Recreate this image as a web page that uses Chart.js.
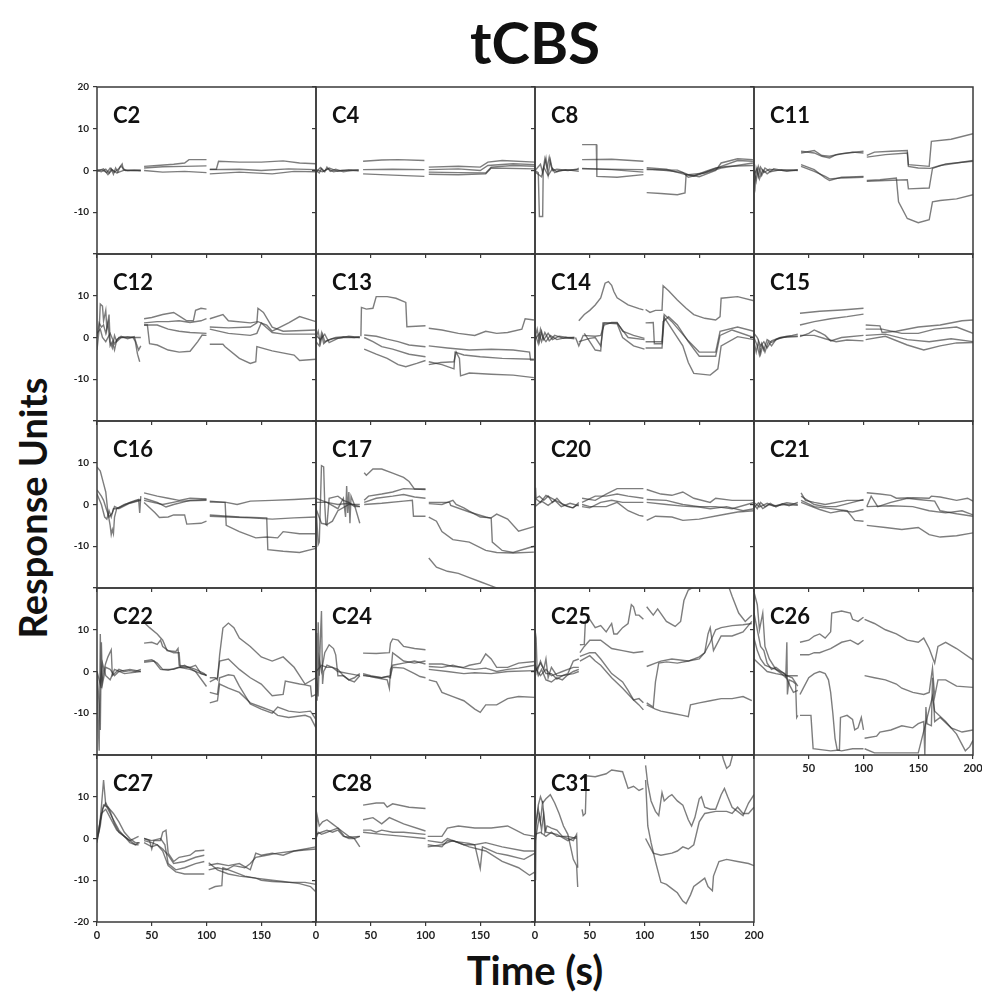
<!DOCTYPE html>
<html>
<head>
<meta charset="utf-8">
<script src="https://cdn.jsdelivr.net/npm/chart.js@4.4.1/dist/chart.umd.min.js"></script>
<style>
  html, body { margin: 0; padding: 0; background: #fff; }
  #page { position: relative; width: 982px; height: 999px; overflow: hidden; font-family: Lato, "Open Sans", sans-serif; color: #111; }
  canvas.panel { position: absolute; }
  .name { position: absolute; font-weight: 700; font-size: 22px; line-height: 1; color: #111; white-space: nowrap; }
  #title { position: absolute; left: 385px; width: 300px; top: 13px; text-align: center; font-weight: 700; font-size: 58px; line-height: 1; }
  #ytitle { position: absolute; left: 32px; top: 508px; transform: translate(-50%, -50%) rotate(-90deg); font-weight: 700; font-size: 38px; line-height: 1; white-space: nowrap; }
  #xtitle { position: absolute; left: 385px; width: 300px; top: 950px; text-align: center; font-weight: 700; font-size: 40px; line-height: 1; }
</style>
</head>
<body>
<div id="page">
  <div id="title">tCBS</div>
  <div id="ytitle">Response Units</div>
  <div id="xtitle">Time (s)</div>
</div>
<script>
// Axis ticks shared by every panel
const timeTicks = [0, 50, 100, 150, 200];
const responseTicks = [-20, -10, 0, 10, 20];

// Panel names, in reading order (4 per row)
const panelNames = ['C2', 'C4', 'C8', 'C11', 'C12', 'C13', 'C14', 'C15', 'C16', 'C17',
                    'C20', 'C21', 'C22', 'C24', 'C25', 'C26', 'C27', 'C28', 'C31'];

// Each trace: three recording windows, each a flat list of time, response pairs
const C2 = [
  [[0,0, 4,-0.3, 8,0.3, 11,-0.6, 13,0.4, 15,-0.9, 17,0.6, 19,-0.4, 21,0.9, 23,1.6, 24,0.2, 28,0, 34,0.1, 40,0],
   [43,1.0, 55,1.2, 70,1.5, 80,1.8, 84,2.6, 100,2.6],
   [103,0.3, 109,0.3, 111,2.2, 130,2.0, 150,2.0, 170,2.3, 185,1.8, 200,1.6]],
  [[0,0.2, 5,0.1, 9,-0.5, 12,0.6, 16,-0.4, 20,0.5, 22,1.0, 26,0, 40,-0.1],
   [43,0.6, 60,0.9, 80,1.0, 100,1.1],
   [103,0.2, 130,0.3, 150,0.0, 175,0.4, 200,0.2]],
  [[0,-0.2, 6,0.4, 10,-1.0, 14,0.2, 18,-0.6, 25,0.1, 40,0.1],
   [43,0.0, 60,-0.4, 80,-0.2, 100,-0.5],
   [103,-0.8, 130,-0.4, 160,-0.8, 180,-0.2, 200,-0.3]]
];
const C4 = [
  [[0,0, 3,-0.6, 5,0.5, 8,-0.3, 10,0.8, 13,-0.2, 18,0.3, 25,-0.3, 32,0, 39,0.2],
   [43,2.2, 60,2.5, 75,2.6, 99,2.4],
   [103,0.8, 130,1.0, 150,0.8, 157,2.0, 170,2.4, 200,2.0]],
  [[0,-0.4, 4,0.7, 7,-0.2, 11,0.4, 16,-0.3, 24,0.1, 39,-0.1],
   [43,0.2, 70,0.3, 99,0.2],
   [103,0.2, 130,0.4, 150,0.0, 157,1.2, 180,1.6, 200,1.4]],
  [[0,0.2, 6,-0.3, 12,0.6, 20,-0.2, 30,0.2, 39,0],
   [43,-0.8, 70,-1.1, 99,-1.4],
   [103,-0.4, 130,-0.5, 155,-0.6, 160,0.8, 180,1.2, 200,1.0]],
  [[], [],
   [103,-0.9, 130,-1.0, 155,-0.8, 160,0.6, 200,0.4]]
];
const C8 = [
  [[0,0, 3,-0.5, 4,-11, 7,-11, 7.5,0, 10,3, 12,-1, 14,2.5, 16,0, 20,0.3, 30,0, 38,0.3, 40,0.6],
   [43,6.2, 56,6.2, 56.5,-1.4, 75,-1.6, 99,-1.0],
   [102,-5.3, 115,-5.5, 130,-5.8, 137,-5.4, 138,-1, 150,-1.5, 165,0, 170,1.8, 185,2.8, 199,2.6]],
  [[0,0, 5,1.5, 7,-0.5, 9,2.8, 11,0.5, 13,3.2, 15,0.8, 18,-0.5, 22,0, 40,0.2],
   [43,2.6, 70,2.7, 99,2.2],
   [102,0.4, 120,0, 135,-0.5, 140,-1.6, 150,-1, 160,0, 170,1.0, 185,2.4, 199,2.2]],
  [[0,-0.3, 6,-1.5, 8,0.8, 12,-1.2, 16,0.5, 20,-0.3, 28,0.2, 40,-0.2],
   [43,0.5, 70,0.2, 99,-0.4],
   [102,0.7, 120,0.3, 135,-0.8, 145,-1.3, 155,-0.3, 165,0.6, 175,1.0, 199,1.2]],
  [[],
   [43,0.4, 99,0.2],
   [102,0.2, 130,0.1, 140,-1.0, 155,-0.6, 170,0.6, 199,1.8]]
];
const C11 = [
  [[0,-2, 1,-3.8, 2,0.5, 4,-1.5, 6,0.8, 9,-0.5, 14,0.3, 20,0.1, 30,0, 40,0.2],
   [43,4.6, 55,4.2, 62,3.4, 69,3.0, 75,3.8, 90,4.4, 100,4.2],
   [103,3.6, 110,4.4, 125,4.6, 140,4.8, 141,1.4, 160,1.0, 162,7.0, 180,7.5, 200,8.8]],
  [[0,0, 2,-2.5, 4,1.0, 7,-1.2, 10,0.6, 15,-0.3, 25,0.2, 40,0],
   [43,4.2, 55,4.8, 62,3.6, 69,3.4, 80,4.0, 100,4.6],
   [103,3.2, 120,3.8, 140,4.2, 141,1.0, 150,0.6, 161,0.5, 170,1.2, 185,1.8, 200,2.4]],
  [[0,-1, 3,0.5, 5,-2.0, 8,0.2, 12,-0.8, 18,0.4, 30,-0.2, 40,0.1],
   [43,1.4, 55,0.2, 65,-1.8, 69,-2.4, 80,-1.6, 100,-1.4],
   [103,-2.4, 115,-2.2, 130,-1.8, 132,-7.5, 140,-11.5, 150,-12.5, 160,-11.8, 163,-7.5, 170,-7.2, 185,-6.8, 200,-5.8]],
  [[],
   [43,1.0, 55,-0.2, 65,-1.4, 69,-2.0, 80,-1.8, 100,-1.6],
   [103,-2.6, 120,-2.4, 140,-2.2, 141,-4.4, 160,-4.2, 163,0.5, 175,1.6, 200,2.2]]
];
const C12 = [
  [[0,-3, 2,2, 3,8, 5,7.5, 6,4, 8,6.5, 9,2, 11,5.5, 12,-1, 14,-2.5, 16,0.5, 18,-1, 22,0, 28,0.2, 33,0, 35,-1, 37,-4, 39,-5.8],
   [43,4.5, 50,4.8, 60,5.5, 70,6.0, 76,5.0, 82,4.0, 88,4.0, 90,6.5, 95,7.0, 100,6.8],
   [103,4.5, 115,5.5, 120,4.0, 140,3.5, 147,3.8, 155,3.0, 160,1.5, 175,3.5, 185,5.0, 200,3.8]],
  [[0,0, 2,3.5, 4,2.5, 6,3.0, 8,1.0, 10,3.5, 12,-2, 14,-1, 16,-3, 18,-0.5, 22,0.3, 28,-0.3, 34,0.2, 36,-1.5, 38,-3, 40,-2],
   [43,3.5, 55,3.8, 65,3.8, 75,4.0, 85,3.6, 95,4.0, 100,4.5],
   [103,2.5, 120,2.3, 140,2.5, 146,3.5, 147,7.0, 152,6.0, 160,2.5, 170,1.5, 200,1.8]],
  [[0,1, 3,2, 5,0, 8,-1, 12,1, 16,-1.5, 20,0, 30,0, 40,0],
   [43,3.0, 55,3.0, 65,2.0, 75,1.5, 85,1.2, 100,1.0],
   [103,2.0, 120,1.0, 140,0.5, 146,1.0, 150,3.5, 160,1.2, 170,0.8, 200,0.8]],
  [[],
   [43,3.0, 46,3.0, 48,-1.5, 55,-1.8, 65,-3.0, 75,-3.5, 85,-3.3, 92,-1.0, 96,0.6, 100,0.5],
   [103,-1.6, 115,-1.6, 117,-2.2, 130,-5.0, 140,-6.2, 145,-5.8, 146,-2.2, 160,-3.2, 180,-4.2, 185,-5.5, 200,-5.2]]
];
const C13 = [
  [[0,0, 2,1.5, 4,-1.5, 6,0.8, 8,-1.0, 12,-0.5, 18,0, 25,0.2, 35,0, 40,0.2],
   [41,0.3, 41.5,7.2, 46,6.8, 52,7.0, 55,9.8, 65,9.8, 73,9.4, 82,8.4, 83,2.6, 100,2.8],
   [103,2.2, 115,1.8, 130,1.0, 145,0.5, 155,1.5, 165,1.0, 175,1.2, 188,2.0, 191,4.5, 199,4.2]],
  [[0,-1, 3,-2, 5,1, 7,-1.5, 10,-0.8, 15,-0.3, 25,0, 40,0],
   [44,0.6, 55,0.3, 65,-0.4, 75,-1.0, 85,-1.8, 100,-2.2],
   [103,-2.0, 120,-2.5, 140,-3.0, 160,-2.8, 180,-3.0, 195,-3.5, 196,-5.4, 199,-5.4]],
  [[0,0.5, 4,-0.5, 8,0.8, 12,-1.2, 20,-0.2, 30,0.3, 40,0],
   [44,0.0, 52,-1.0, 60,-2.2, 70,-2.8, 85,-4.0, 100,-4.6],
   [103,-5.8, 115,-6.5, 126,-7.5, 127,-3.5, 135,-4.2, 150,-4.6, 170,-5.0, 199,-5.2]],
  [[],
   [44,-2.8, 55,-4.0, 65,-5.0, 75,-6.5, 82,-7.0, 92,-6.2, 100,-5.5],
   [103,-6.5, 114,-6.0, 126,-5.8, 128,-3.5, 131,-5.0, 132,-9.2, 140,-8.5, 160,-8.8, 180,-9.0, 199,-9.6]]
];
const C14 = [
  [[0,0, 2,2, 4,-1, 6,1.5, 8,-0.5, 12,1, 16,-0.5, 22,0.3, 30,0, 36,0],
   [40,4.0, 45,5.5, 50,6.5, 55,7.8, 60,9.5, 64,13.0, 67,13.4, 70,12.5, 72,11.0, 75,9.5, 85,7.8, 95,6.9, 99,6.6],
   [101,6.7, 105,6.0, 110,6.5, 116,6.5, 117,12.4, 122,11.2, 130,9.0, 138,7.0, 145,5.5, 155,4.6, 165,4.2, 169,5.0, 170,9.4, 185,9.8, 200,8.8]],
  [[0,1, 3,-1.5, 5,2, 7,0, 10,-1, 14,0.5, 20,-0.5, 28,0, 36,-0.3],
   [37,0, 40,-2, 44,0.5, 55,0.3, 60,0.5, 63,3.0, 70,3.6, 75,3.6, 80,1.5, 90,0.5, 100,-0.2],
   [101,3.5, 108,3.6, 109,-1.5, 116,-1.5, 117,3.8, 122,5.0, 130,3.0, 140,-1.0, 150,-4.5, 165,-4.5, 169,0.5, 180,1.8, 200,0.0]],
  [[0,-0.5, 4,1, 6,-1, 9,1.2, 13,-0.8, 18,0.5, 26,-0.2, 36,0],
   [40,-1, 50,-0.2, 55,0, 60,-2, 63,3.5, 75,3.5, 85,0, 100,-0.5],
   [101,-1.0, 116,-1.0, 118,5.5, 125,3.8, 140,-0.8, 150,-3.5, 165,-3.5, 169,1.5, 185,2.5, 200,1.5]],
  [[],
   [45,1.0, 50,-1.0, 55,-3.0, 60,-3.2, 62,3.5, 75,3.3, 80,0, 90,-2.0, 100,-2.8],
   [101,-2.5, 116,-2.5, 118,4.8, 125,2.0, 135,-2.0, 140,-6.0, 145,-8.6, 160,-9.0, 167,-7.5, 170,-2.0, 185,0.2, 200,-0.5]]
];
const C15 = [
  [[0,-1, 2,-3.5, 4,-1, 6,-4, 8,-2, 10,-3.5, 13,-1, 16,-2, 20,-0.5, 25,0, 30,0.3, 35,0.5, 40,0.8],
   [42,5.8, 60,6.3, 80,6.6, 100,7.0],
   [102,3.0, 115,2.8, 117,1.2, 130,1.5, 150,2.5, 170,3.0, 190,4.0, 200,4.2]],
  [[0,0, 3,-2, 5,-4.2, 7,-1.5, 9,-3, 12,-0.5, 16,-1.2, 22,-0.3, 30,0.2, 40,0.4],
   [42,3.0, 55,3.8, 70,4.5, 85,5.0, 100,5.6],
   [102,2.0, 117,2.0, 135,1.0, 150,1.0, 165,2.0, 185,2.5, 200,1.0]],
  [[0,1, 3,0, 6,-2, 9,-1, 12,-2.5, 16,-0.8, 24,0, 40,0.2],
   [42,0.2, 50,1.0, 55,1.8, 60,1.2, 65,0.5, 70,-0.8, 80,0, 100,0.5],
   [102,0.5, 120,0.8, 140,-0.5, 160,-1.0, 180,-0.3, 200,-1.0]],
  [[],
   [42,0.5, 55,0.5, 65,-0.3, 75,-1.0, 85,-0.6, 100,-0.8],
   [102,-0.5, 120,0.3, 140,-1.8, 155,-3.0, 170,-2.0, 185,-1.3, 200,-1.2]]
];
const C16 = [
  [[0,9, 3,8, 6,5, 8,3, 10,-2, 12,-5, 13,-7.2, 14,-6, 15,-7, 16,-3, 18,-1, 22,-0.5, 30,0.5, 35,1.0, 38,1.2, 39,-2, 40,2.0],
   [43,2.8, 55,2.0, 65,1.5, 75,1.0, 85,1.5, 100,1.3],
   [103,0.8, 118,0.5, 128,0, 140,0.8, 160,1.0, 180,1.2, 200,1.5]],
  [[0,3.5, 4,2.0, 6,1.0, 9,-1.5, 11,-3.0, 14,-2.0, 16,-0.5, 20,-1, 30,0.3, 40,1],
   [43,1.5, 55,0.5, 63,-0.6, 70,0, 85,1.0, 100,1.2],
   [103,-2.8, 120,-3.0, 140,-3.2, 160,-3.5, 180,-3.2, 200,-3.0]],
  [[0,2.5, 4,0, 7,-3.0, 9,-3.5, 11,-1.5, 13,-3.0, 15,-1.0, 18,-1, 25,0, 40,1.2],
   [43,0.5, 53,-2.0, 57,-3.1, 65,-3.0, 70,-2.5, 80,-2.5, 82,-4.7, 95,-4.5, 100,-4.0],
   [103,0.6, 117,0.5, 118,-5.0, 130,-6.5, 145,-8.0, 155,-7.8, 165,-8.0, 170,-6.5, 185,-7.0, 200,-7.0]],
  [[],
   [43,1.0, 60,0, 75,0.8, 100,1.0],
   [103,-2.5, 130,-3.0, 155,-3.2, 156,-10.8, 170,-11.2, 185,-11.5, 200,-10.5]]
];
const C17 = [
  [[0,0, 2,-9.6, 3,-9, 4,0, 5,9.3, 7,9, 8,0, 9,-4.8, 10,-5, 12,1.5, 20,2.0, 25,1.0, 30,0.5, 35,-0.5, 40,-0.5],
   [44,7.6, 46,7.0, 52,8.5, 60,8.5, 70,7.5, 80,6.5, 85,5.5, 90,3.7, 100,3.7],
   [103,0.2, 115,0, 125,1.0, 128,0, 135,-0.8, 140,-1.6, 150,-3.0, 160,-3.2, 165,-2.3, 175,-3.5, 185,-6.4, 199,-5.3]],
  [[0,1.5, 5,1.0, 10,0.5, 20,-1.0, 25,1.5, 27,-3, 28,4.4, 29,-2, 30,3, 31,-4.5, 32,2, 35,0, 40,-4.5],
   [44,1.0, 48,2.0, 60,2.5, 70,3.0, 80,3.8, 100,3.6],
   [103,0.5, 110,0.5, 122,0.5, 123,-0.2, 140,-1.8, 155,-3.0, 160,-3.3, 161,-9.0, 170,-11.0, 180,-11.5, 199,-10.0]],
  [[0,-1, 5,-4.5, 10,-4.8, 15,-4.0, 20,-1.5, 30,0, 40,0],
   [44,0.5, 55,1.5, 70,2.0, 80,2.4, 90,1.8, 100,1.5],
   [103,-3.0, 110,-4.0, 115,-6.5, 125,-8.4, 140,-9.0, 155,-11.0, 165,-11.5, 180,-11.6, 199,-11.4]],
  [[0,0.5, 10,0.5, 20,0, 30,0.3, 40,-0.5],
   [44,0, 60,0.3, 80,0.8, 88,1.0, 89,-2.8, 100,-2.8],
   [103,-12.8, 110,-15.0, 120,-16.0, 130,-16.5, 140,-17.5, 150,-18.5, 160,-19.5, 170,-20.5]]
];
const C20 = [
  [[0,0, 0.5,4, 1,1.5, 4,2.0, 8,1.0, 12,2.0, 16,0.5, 20,1.5, 25,0, 30,-0.5, 35,-0.8, 40,0.5],
   [43,1.5, 55,1.0, 65,2.5, 75,3.8, 90,3.8, 99,3.8],
   [102,3.6, 115,2.5, 125,2.2, 135,3.0, 145,1.5, 160,0.5, 165,1.5, 180,1.0, 200,1.0]],
  [[0,1.5, 5,0.5, 10,2.2, 15,1.5, 20,0.8, 28,-0.2, 34,-0.8, 40,0],
   [43,0.5, 55,2.0, 65,2.0, 75,2.5, 85,2.0, 99,1.5],
   [102,1.2, 120,1.0, 135,0, 150,-0.5, 165,-0.5, 180,-1.0, 200,0.5]],
  [[0,-0.5, 6,0.8, 12,-0.2, 18,1.0, 24,-0.5, 32,0.3, 40,-0.3],
   [43,-0.5, 50,-0.8, 60,0.5, 70,1.0, 80,0.5, 90,0.5, 99,0.5],
   [102,0.5, 120,0, 135,-0.4, 150,-0.6, 160,-1.0, 175,-0.5, 190,-1.5, 200,-1.0]],
  [[],
   [43,0, 50,-0.5, 65,-0.5, 75,0.5, 85,-1.5, 95,-2.6, 99,-2.8],
   [102,-3.8, 110,-2.8, 125,-3.0, 135,-3.8, 150,-3.5, 170,-2.5, 185,-1.8, 200,-1.5]]
];
const C21 = [
  [[0,0, 3,-1, 6,0.5, 10,-0.5, 15,0.3, 20,-0.6, 26,0.2, 32,-0.3, 40,0.5],
   [43,2.8, 47,1.0, 55,0.5, 65,0, 75,0.5, 85,1.0, 100,1.0],
   [103,2.8, 115,2.5, 125,2.2, 130,1.5, 145,1.6, 160,1.5, 162,2.0, 170,1.8, 185,1.0, 195,1.5, 200,0.8]],
  [[0,-0.8, 4,0.4, 8,-1.0, 14,0, 20,-0.3, 30,0.4, 40,0],
   [43,2.0, 55,0, 65,-0.5, 75,-0.5, 90,0.5, 100,1.2],
   [103,-0.5, 107,2.0, 113,-0.5, 125,0.5, 140,1.5, 150,1.2, 165,0.8, 170,-1.5, 185,-2.2, 200,-2.8]],
  [[0,0.5, 5,-0.6, 12,0.3, 18,-0.4, 28,0, 40,-0.2],
   [43,0.5, 50,-0.2, 60,-1.2, 70,-2.0, 80,-1.5, 90,-1.8, 100,-1.2],
   [103,-0.5, 125,-0.3, 145,-0.5, 160,-1.5, 175,-2.0, 190,-1.5, 200,-2.5]],
  [[],
   [43,1.0, 55,-0.5, 70,-1.0, 85,-1.5, 92,-3.8, 100,-4.0],
   [103,-5.0, 120,-5.5, 135,-6.0, 150,-5.5, 160,-7.2, 170,-7.8, 185,-7.5, 200,-6.8]]
];
const C22 = [
  [[0,-2, 1,-12, 2,-19, 3,9, 4,-4, 6,0, 8,2, 10,3.5, 13,5.2, 14,-1, 16,-0.5, 20,0.5, 25,0, 30,0.2, 35,0, 40,0.5],
   [44,11.5, 48,10.5, 55,9.0, 60,7.5, 64,5.0, 72,4.8, 74,5.5, 75,1.5, 85,1.0, 90,1.5, 95,-0.5, 100,-0.8],
   [103,-1.5, 108,-1.5, 110,-2.0, 112,4.0, 115,10.4, 120,11.6, 125,10.5, 130,8.0, 140,6.0, 150,3.5, 160,2.5, 170,3.5, 180,1.0, 185,-1.0, 190,-3.0, 200,-1.5]],
  [[0,0, 2,-8, 3,-14, 4,7, 5,-3, 8,1, 12,0.5, 16,-1, 20,0, 30,0.5, 40,0],
   [43,6.8, 50,7.0, 55,6.5, 58,7.5, 60,6.0, 65,5.0, 70,4.5, 75,4.5, 76,1.0, 85,1.0, 90,0.5, 98,-0.5, 100,-1],
   [103,-2.5, 110,-1.5, 112,2.5, 120,3.0, 130,0.5, 140,-1.5, 150,-3.0, 160,-5.8, 170,-5.5, 172,-2.3, 185,-3.0, 190,-3.2, 195,-3.5, 196,-6.0, 200,-5.5]],
  [[0,0, 3,-3, 5,2, 8,-1, 12,-2, 16,0.5, 25,-0.5, 40,0],
   [43,2.5, 50,2.8, 55,2.0, 60,0.5, 70,0.5, 80,1.5, 90,0, 100,-3.6],
   [103,-5.0, 110,-5.5, 112,-1.5, 120,-0.8, 125,-1.0, 130,-3.5, 140,-7.8, 150,-9.0, 160,-10.0, 165,-8.5, 175,-9.5, 185,-9.8, 195,-9.5, 200,-11.5]],
  [[],
   [43,2.2, 52,2.5, 58,0.5, 65,0.3, 75,1.0, 85,0.5, 95,-0.5, 100,-1.0],
   [103,-7.5, 110,-7.0, 112,-3.0, 120,-4.0, 130,-5.0, 140,-7.5, 150,-8.5, 160,-9.5, 165,-10.5, 175,-11.0, 190,-10.5, 195,-11.0, 200,-13.5]]
];
const C24 = [
  [[0,-2, 0.5,9.2, 1,-7, 2,11.8, 3,-1, 4,8, 5,14.5, 6,-3, 7,0, 10,1.5, 15,1.0, 20,0.5, 25,-1, 30,-2.0, 35,-2.5, 40,-1],
   [43,4.4, 55,4.3, 67,4.5, 68,6.8, 70,7.8, 75,7.5, 80,6.0, 90,5.5, 100,5.2],
   [103,1.8, 115,1.8, 125,1.2, 135,1.0, 140,1.5, 150,2.0, 155,4.2, 160,3.0, 165,1.0, 175,1.0, 185,2.0, 200,2.4]],
  [[0,0, 2,-6, 3,3, 5,0, 8,4.5, 12,6.4, 16,5.5, 18,4, 20,-1, 25,-1, 30,-2.0, 35,-1.5, 40,-0.5],
   [43,-0.5, 50,-1.0, 60,-1.5, 65,-1.2, 68,-1.5, 70,4.5, 75,3.5, 80,2.5, 90,2.0, 100,2.5],
   [103,1.2, 115,1.0, 125,1.5, 135,0.8, 145,0.5, 155,0.8, 165,0, 175,0.5, 185,0.8, 200,1.5]],
  [[0,0, 5,1.5, 10,1.0, 15,1.0, 20,0, 30,-0.5, 40,-1.0],
   [43,-0.8, 55,-1.5, 65,-2.0, 67,-4.0, 68,0.5, 70,1.5, 80,2.0, 90,2.5, 100,1.8],
   [103,0.5, 120,0, 135,-0.5, 145,-0.3, 160,-0.5, 175,0, 200,0.2]],
  [[],
   [43,-1.0, 60,-1.5, 68,-1.0, 70,1.0, 80,0.8, 90,-0.5, 95,-1.2, 100,-1.5],
   [103,-2.0, 110,-2.5, 115,-5.0, 125,-6.0, 135,-7.0, 145,-9.0, 150,-9.8, 155,-8.0, 165,-8.0, 175,-6.5, 185,-6.0, 200,-6.2]]
];
const C25 = [
  [[0,10, 1,8, 2,0, 5,2.5, 8,0.5, 10,3.0, 12,-1.5, 15,1.0, 20,-1, 25,-1, 30,-0.5, 35,2.5, 40,3.0],
   [41,6.4, 45,6.5, 46,12.0, 50,12.5, 55,10.5, 60,11.0, 65,9.5, 70,11.5, 72,9.0, 75,9.0, 80,10.5, 85,11.5, 88,16.0, 90,15.5, 92,13.5, 95,13.5, 99,12.5],
   [102,15.5, 108,13.5, 112,15.0, 120,12.0, 128,10.8, 133,12.0, 136,17.0, 140,19.5, 150,21.0, 165,22.0, 176,21.0, 180,18.0, 186,14.0, 192,12.0, 198,13.5]],
  [[0,2.0, 3,-1, 6,0.5, 10,-2.0, 15,-2.5, 20,-1.5, 25,-2.0, 30,-0.8, 35,0, 40,0.5],
   [41,4.5, 45,6.0, 50,7.5, 60,7.5, 70,5.5, 80,5.0, 90,4.5, 99,4.8],
   [102,1.2, 110,2.0, 115,2.5, 125,3.0, 140,2.5, 150,3.0, 155,4.5, 160,7.0, 165,10.0, 170,10.5, 180,11.0, 190,11.2, 198,11.5]],
  [[0,1.0, 5,-1, 10,0.5, 15,-1.0, 20,-0.5, 25,0, 30,0.5, 35,1.0, 40,1.0],
   [41,3.6, 50,4.5, 55,4.5, 60,3.0, 70,-0.5, 80,-2.5, 85,-4.5, 90,-6.8, 95,-6.5, 99,-7.5],
   [102,-7.5, 108,-8.5, 110,-2.5, 113,2.0, 120,2.3, 130,2.0, 140,2.5, 150,3.5, 155,4.5, 158,9.0, 160,10.5, 163,5.0, 165,6.0, 170,8.5, 180,8.5, 190,9.5, 198,12.0]],
  [[0,0, 5,2.0, 10,-0.5, 15,-0.5, 20,-1.8, 25,-1.0, 35,-0.5, 40,0],
   [41,2.5, 50,3.8, 55,2.5, 60,1.5, 70,-1.5, 80,-4.0, 90,-6.8, 95,-8.0, 99,-9.2],
   [102,-8.0, 110,-9.0, 115,-9.5, 125,-10.0, 135,-10.5, 140,-10.8, 142,-8.0, 150,-7.5, 160,-7.0, 170,-6.5, 180,-6.5, 190,-6.0, 198,-7.0]]
];
const C26 = [
  [[0,19, 3,16, 5,10, 8,14, 10,6, 14,3, 20,0.5, 25,-0.5, 29,-1.5, 30,7.0, 30.5,-5.5, 32,-2, 36,-2.5, 38,-3.0, 39,-11, 40,-10.5],
   [42,7.0, 50,7.5, 55,8.5, 60,9.0, 65,8.0, 70,9.5, 71,14.0, 80,14.5, 88,14.0, 90,12.5, 95,12.0, 100,13.0],
   [101,12.5, 110,11.5, 120,10.0, 130,9.0, 140,7.5, 150,7.0, 155,8.0, 160,5.5, 165,2.0, 168,6.0, 175,7.0, 185,5.5, 200,2.8]],
  [[0,14, 3,10, 6,6, 9,5, 12,2, 16,0.5, 20,1.0, 25,0, 30,-1.0, 35,-1.5, 40,-3.5],
   [42,4.0, 50,4.0, 55,4.5, 60,4.5, 65,5.0, 70,5.5, 80,7.0, 88,7.5, 95,6.5, 100,7.5],
   [101,-1.0, 110,-1.5, 120,-2.0, 130,-3.0, 135,-4.0, 145,-5.0, 155,-5.5, 160,-5.0, 163,0.8, 165,-6.0, 168,-2.0, 175,-2.0, 185,-3.5, 200,-3.8]],
  [[0,8, 3,5, 6,3, 10,1.5, 15,1.0, 20,0.5, 28,-0.5, 33,-3.5, 36,-5.0, 40,-4.5],
   [42,-5.5, 45,-4.0, 50,-1.5, 55,-0.5, 60,0, 65,-0.5, 68,-2.0, 70,-5.0, 72,-10.0, 74,-16.0, 76,-18.8, 80,-19.0, 90,-18.5, 100,-18.5],
   [101,-16.0, 112,-15.5, 115,-14.5, 125,-14.0, 135,-13.0, 145,-13.5, 150,-12.5, 155,-12.0, 156,-20, 157,-8.5, 158,-12.5, 162,-13.0, 163,-1.5, 165,-12.0, 170,-11.0, 180,-13.5, 190,-14.5, 200,-14.0]],
  [[0,3, 4,2, 8,1, 12,0, 20,-0.5, 30,-1.0, 40,-1.0],
   [42,-10.5, 52,-10.5, 54,-18.5, 70,-19.0, 78,-18.8, 79,-11.0, 85,-10.5, 90,-11.5, 92,-14.0, 95,-13.5, 98,-11, 100,-14.0],
   [101,-18.5, 110,-19.5, 150,-19.5, 163,-6.0, 165,-9.5, 175,-12.0, 185,-15.0, 193,-19.0, 197,-18.0, 200,-16.5]]
];
const C27 = [
  [[0,0, 2,2, 4,7.5, 6,14, 8,8.0, 10,7.0, 15,4.5, 20,2.0, 25,0.5, 30,-1.0, 35,-1.5, 38,-1.5],
   [43,0, 48,-0.5, 50,-2.5, 52,-0.5, 58,-0.5, 60,1.5, 63,2.0, 65,-3.5, 70,-5.5, 75,-4.5, 85,-4.0, 90,-3.0, 98,-2.8],
   [102,-6.4, 110,-6.0, 120,-6.5, 130,-6.0, 140,-7.5, 145,-3.5, 150,-4.0, 160,-3.5, 170,-4.0, 180,-3.0, 190,-2.5, 200,-2.0]],
  [[0,-0.5, 3,3.0, 5,7.0, 8,8.5, 12,6.5, 16,3.5, 20,1.5, 25,0.5, 30,-0.5, 35,-1.5, 38,-1.0],
   [43,-0.5, 50,-1.0, 55,-1.5, 60,-2.5, 65,-4.0, 70,-6.0, 80,-5.5, 90,-4.5, 98,-4.0],
   [102,-7.5, 110,-7.0, 118,-7.5, 125,-6.5, 135,-7.0, 140,-6.0, 145,-4.5, 155,-4.0, 165,-3.5, 180,-3.0, 200,-2.5]],
  [[0,0.5, 4,5.5, 6,8.0, 10,7.5, 15,6.0, 20,4.0, 25,1.5, 30,0, 35,-1.0, 39,-1.0],
   [43,0, 50,-0.5, 58,0, 62,-1.5, 65,-6.0, 72,-7.5, 80,-7.0, 90,-6.0, 98,-5.5],
   [102,-5.8, 110,-7.5, 120,-8.5, 130,-9.0, 145,-9.5, 150,-10.0, 160,-10.3, 175,-10.5, 190,-10.5, 200,-11.0]],
  [[0,-1, 4,6.0, 8,7.0, 12,5.0, 18,2.0, 25,0.5, 30,-0.5, 38,0.5],
   [43,-1.0, 50,-2.0, 55,-1.5, 60,-3.0, 65,-6.5, 72,-8.0, 80,-8.5, 90,-8.5, 98,-8.5],
   [102,-12.2, 108,-11.5, 114,-11.3, 115,-7.0, 125,-8.0, 135,-9.0, 145,-9.5, 160,-10.0, 170,-10.3, 185,-10.8, 195,-11.5, 200,-12.8]]
];
const C28 = [
  [[0,-2, 1,5.6, 3,3.0, 6,4.0, 10,4.5, 15,3.5, 20,2.5, 25,1.5, 30,0.5, 35,0, 40,0.5],
   [43,8.0, 55,8.5, 62,8.5, 65,7.5, 70,8.3, 85,7.5, 100,7.2],
   [102,0.5, 115,0.5, 120,2.5, 130,3.0, 145,2.5, 160,2.5, 175,3.0, 190,1.0, 200,0.5]],
  [[0,0, 2,1.5, 5,1.0, 10,1.5, 15,2.0, 20,2.5, 23,1.5, 26,0.5, 30,0, 35,0, 40,-2.0],
   [43,4.5, 52,5.0, 60,3.5, 67,5.0, 80,3.5, 100,1.8],
   [102,-0.5, 115,-1.0, 120,0, 125,-0.5, 135,-1.5, 145,-1.5, 155,-1.0, 170,-2.0, 190,-3.0, 200,-3.0]],
  [[0,1.0, 5,1.5, 10,2.0, 15,1.5, 20,2.0, 25,0.5, 30,0.3, 40,0.5],
   [43,2.0, 50,2.0, 55,1.5, 60,2.0, 70,1.5, 80,1.5, 100,1.0],
   [102,-1.5, 115,-2.0, 120,-0.5, 135,-1.0, 140,-1.2, 145,-1.5, 150,-7.2, 152,-2.0, 165,-3.5, 175,-4.0, 190,-5.0, 200,-3.5]],
  [[],
   [43,1.5, 60,1.0, 80,0.5, 100,0],
   [102,-2.0, 115,-1.5, 125,-0.5, 140,-2.0, 155,-3.0, 170,-5.5, 185,-7.0, 195,-8.8, 200,-8.0]]
];
const C31 = [
  [[0,0, 0.5,-10, 1,4, 3,8, 5,10, 7,8.5, 10,9.5, 14,10.5, 18,8.5, 22,6.0, 26,3.0, 30,1.0, 35,-5.0, 38,-6.5, 39,-11.6],
   [43,7.0, 44,5.5, 46,6.0, 47,15.0, 55,14.8, 65,15.5, 70,16.4, 80,16.0, 85,12.0, 90,12.5, 95,11.5, 99,12.0],
   [101,17.5, 103,13.0, 106,9.0, 110,6.5, 113,5.5, 116,11.0, 118,9.0, 122,10.0, 125,10.5, 130,9.0, 135,8.0, 140,4.5, 143,3.0, 146,5.0, 150,9.5, 152,10.0, 155,7.5, 160,7.0, 165,7.0, 170,10.5, 173,12.0, 176,10.0, 180,7.5, 185,6.5, 190,5.5, 195,8.5, 200,10.5]],
  [[0,2.0, 3,7.0, 5,4.0, 7,9.0, 9,1.5, 11,3.0, 15,2.5, 20,2.0, 25,0.5, 30,0, 35,-0.5, 38,1.0, 39,-7.0],
   [],
   [101,0, 105,-2.0, 108,-3.5, 115,-4.0, 125,-3.5, 130,-3.0, 135,-2.0, 140,-2.5, 145,-1.5, 150,4.0, 155,6.0, 165,6.5, 175,6.5, 180,6.0, 185,7.5, 190,6.0, 195,6.0, 200,7.5]],
  [[0,1.0, 5,1.5, 10,0.5, 15,1.5, 20,0.5, 30,0.5, 38,0],
   [],
   [101,14.0, 103,3.0, 106,-1.0, 110,-5.5, 112,-7.5, 115,-10.5, 120,-11.0, 125,-12.0, 130,-13.0, 135,-15.0, 138,-15.6, 142,-13.5, 145,-11.5, 150,-10.5, 155,-9.5, 158,-11.5, 162,-12.5, 163,-9.0, 168,-5.5, 175,-5.0, 185,-5.5, 195,-6.0, 200,-6.5]],
  [[0,-1.0, 4,5.5, 6,2.0, 8,6.0, 10,1.5, 20,1.0, 30,-0.5, 38,0.5],
   [],
   [169,22, 172,19.0, 175,16.8, 178,17.5, 180,19.5, 182,22]]
];

const panelData = [C2, C4, C8, C11, C12, C13, C14, C15, C16, C17,
                   C20, C21, C22, C24, C25, C26, C27, C28, C31];

// Grid geometry (pixels)
const GRID_LEFT = 97, GRID_TOP = 87, CELL_W = 219, CELL_H = 167, COLS = 4;
const PAD_L = 45, PAD_R = 15, PAD_T = 10, PAD_B = 30;

function toPoints(trace) {
  const pts = [];
  trace.forEach(seg => {
    for (let i = 0; i + 1 < seg.length; i += 2) pts.push({ x: seg[i], y: seg[i + 1] });
    if (seg.length) pts.push({ x: seg[seg.length - 2] + 0.5, y: null });
  });
  return pts;
}

const frame = {
  id: 'frame',
  afterDraw(chart) {
    const { ctx, chartArea: a } = chart;
    ctx.save();
    ctx.strokeStyle = '#3a3a3a';
    ctx.lineWidth = 1.5;
    ctx.strokeRect(a.left, a.top, a.right - a.left, a.bottom - a.top);
    ctx.restore();
  }
};

const page = document.getElementById('page');
const lastRow = Math.floor((panelNames.length - 1) / COLS);

panelNames.forEach((name, idx) => {
  const col = idx % COLS, row = Math.floor(idx / COLS);
  const left = GRID_LEFT + col * CELL_W, top = GRID_TOP + row * CELL_H;

  const canvas = document.createElement('canvas');
  canvas.className = 'panel';
  canvas.width = PAD_L + CELL_W + PAD_R;
  canvas.height = PAD_T + CELL_H + PAD_B;
  canvas.style.left = (left - PAD_L) + 'px';
  canvas.style.top = (top - PAD_T) + 'px';
  page.appendChild(canvas);

  const label = document.createElement('div');
  label.className = 'name';
  label.textContent = name;
  label.style.left = (left + 16) + 'px';
  label.style.top = (top + 17) + 'px';
  page.appendChild(label);

  // which tick labels this panel carries
  const showY = col === 0;
  const isBottom = row === lastRow || (row === lastRow - 1 && col > (panelNames.length - 1) % COLS);
  const showX = isBottom;
  const rightmostBottom = (col === COLS - 1) || idx === panelNames.length - 1;

  const yLabel = v => {
    if (!showY) return '';
    if (v === 20 && row !== 0) return '';
    if (v === -20 && row !== lastRow) return '';
    return String(v);
  };
  const xLabel = v => {
    if (!showX) return '';
    if (v === 0 && col === COLS - 1) return '';
    if (v === 200 && !rightmostBottom) return '';
    return String(v);
  };

  new Chart(canvas, {
    type: 'line',
    data: {
      datasets: panelData[idx].map(trace => ({
        data: toPoints(trace),
        borderColor: 'rgba(45,45,45,0.62)',
        borderWidth: 1.4,
        pointRadius: 0,
        tension: 0,
        spanGaps: false
      }))
    },
    options: {
      responsive: false,
      animation: false,
      events: [],
      devicePixelRatio: 1,
      layout: { padding: { left: 0, right: PAD_R, top: PAD_T, bottom: 0 } },
      plugins: { legend: { display: false }, tooltip: { enabled: false } },
      scales: {
        x: {
          type: 'linear', min: timeTicks[0], max: timeTicks[timeTicks.length - 1],
          afterBuildTicks: s => { s.ticks = timeTicks.map(v => ({ value: v })); },
          afterFit: s => { s.height = PAD_B; },
          border: { display: false },
          grid: { drawOnChartArea: false, drawTicks: true, tickLength: 4, color: '#3a3a3a', lineWidth: 1.2 },
          ticks: { callback: xLabel, autoSkip: false, maxRotation: 0, padding: 3, color: '#222',
                   font: { family: 'Lato', weight: 'bold', size: 11 } }
        },
        y: {
          type: 'linear', min: responseTicks[0], max: responseTicks[responseTicks.length - 1],
          afterBuildTicks: s => { s.ticks = responseTicks.map(v => ({ value: v })); },
          afterFit: s => { s.width = PAD_L; },
          border: { display: false },
          grid: { drawOnChartArea: false, drawTicks: true, tickLength: 4, color: '#3a3a3a', lineWidth: 1.2 },
          ticks: { callback: yLabel, autoSkip: false, padding: 4, color: '#222',
                   font: { family: 'Lato', weight: 'bold', size: 10 } }
        }
      }
    },
    plugins: [frame]
  });
});
</script>
</body>
</html>
